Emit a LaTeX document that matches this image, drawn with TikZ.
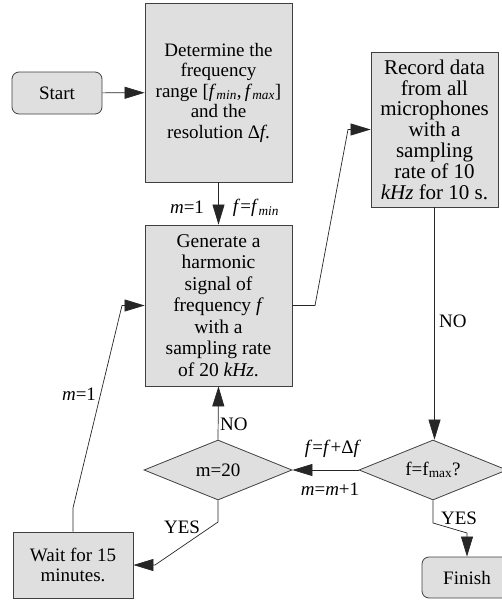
\documentclass[tikz,border=0pt]{standalone}
\usepackage{fontspec}
\setmainfont{Liberation Serif}
\usetikzlibrary{shapes.geometric,arrows.meta}
\begin{document}
\begin{tikzpicture}[x=1pt,y=-1pt,
 box/.style={draw=black!75, fill=gray!25, line width=0.8pt, inner sep=0pt, align=center, font=\fontsize{19}{20.5}\selectfont},
 rbox/.style={box, rounded corners=7pt},
 dia/.style={box, shape=diamond, minimum width=148pt, minimum height=60pt, aspect=2.47},
 conn/.style={draw=black!85, line width=0.7pt, -{Triangle[length=20pt,width=12pt]}},
 lbl/.style={font=\fontsize{19}{20}\selectfont, inner sep=0pt}]
\useasboundingbox (0,0) rectangle (502,602);
\clip (0,0) rectangle (502,602);

\node[rbox, minimum width=90pt, minimum height=42pt] (start) at (57,93) {Start};
\node[box, minimum width=147pt, minimum height=179pt] (det) at (218.5,92.5)
  {Determine the\\frequency\\range [\textit{f}\textsubscript{\textit{min}},\,\textit{f}\textsubscript{\textit{max}}]\\and the\\resolution Δ\textit{f}.};
\node[box, font=\fontsize{19.5}{21.5}\selectfont, minimum width=147pt, minimum height=161pt] (gen) at (218.5,305.5)
  {Generate a\\harmonic\\signal of\\frequency \textit{f}\\with a\\sampling rate\\of 20 \textit{kHz}.};
\node[box, font=\fontsize{21}{20.8}\selectfont, minimum width=127pt, minimum height=155pt] (rec) at (434.5,129.5)
  {Record data\\from all\\microphones\\with a\\sampling\\rate of 10\\\textit{kHz} for 10 s.};
\node[dia] (d20) at (218,470) {m=20};
\node[dia] (dmax) at (433,470) {f=f\textsubscript{max}?};
\node[box, minimum width=120pt, minimum height=66pt] (wait) at (73,565) {Wait for 15\\minutes.};
\node[rbox, minimum width=90pt, minimum height=41pt] (fin) at (467,577.5) {Finish};

\coordinate (g1) at (315,305.5);
\coordinate (g2) at (348,129.5);
\coordinate (y1) at (218,522);
\coordinate (y2) at (155,565);
\coordinate (w1) at (73,508);
\coordinate (w2) at (122,305.5);
\coordinate (f1) at (433,523);
\coordinate (f2) at (467,533);

\draw[conn] (start) -- (det);
\draw[conn] (det) -- (gen);
\draw[conn] (gen.east) -- (g1) -- (g2) -- (rec.west);
\draw[conn] (rec.south) -- (rec.south |- dmax.north);
\draw[conn] (dmax.west) -- (d20.east);
\draw[conn] (d20.north) -- (gen.south);
\draw[conn] (d20.south) -- (y1) -- (y2) -- (wait.east);
\draw[conn] (wait.north) -- (w1) -- (w2) -- (gen.west);
\draw[conn] (dmax.south) -- (f1) -- (f2) -- (fin.north);

\node[lbl] (l1) at (187,207) {\textit{m}=1};
\node[lbl] (l2) at (256,208) {\textit{f}=\textit{f}\textsubscript{\textit{min}}};
\node[lbl, anchor=west] (l3) at (439,321) {NO};
\node[lbl] (l4) at (333,449) {\textit{f}=\textit{f}+Δ\textit{f}};
\node[lbl] (l5) at (330,489) {\textit{m}=\textit{m}+1};
\node[lbl, anchor=west] (l6) at (220,424) {NO};
\node[lbl] (l7) at (182,527) {YES};
\node[lbl] (l8) at (79,394) {\textit{m}=1};
\node[lbl] (l9) at (459,518) {YES};
\end{tikzpicture}
\end{document}
